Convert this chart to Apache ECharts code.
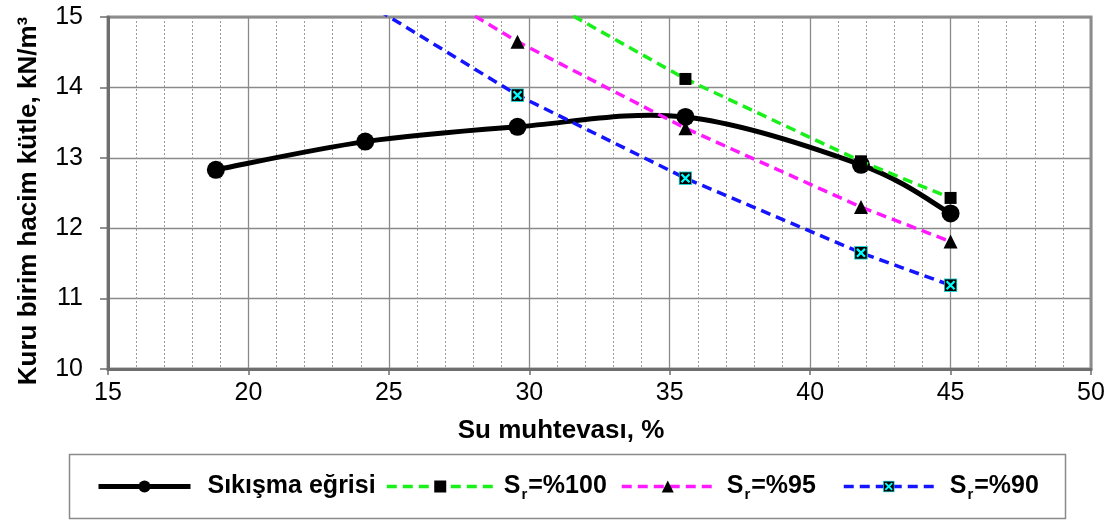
<!DOCTYPE html>
<html>
<head>
<meta charset="utf-8">
<script src="https://cdn.jsdelivr.net/npm/echarts@6/dist/echarts.min.js"></script>
<style>
  html, body { margin: 0; padding: 0; background: #ffffff; }
  #chart { width: 1117px; height: 523px; }
</style>
</head>
<body>
<div id="chart"></div>
<script>
// Water content (%) of each compaction test
const moisture = [18.84, 24.16, 29.58, 35.56, 41.81, 45.0];
// Dry unit weight of the compaction curve (kN/m3)
const dryUnitWeight = [12.83, 13.23, 13.44, 13.58, 12.90, 12.21];
// Constant-saturation lines at the same water contents (null = not plotted)
const sr100 = [null, null, 15.46, 14.12, 12.95, 12.43];
const sr95 = [null, 15.95, 14.65, 13.42, 12.30, 11.81];
const sr90 = [null, 15.21, 13.89, 12.71, 11.65, 11.19];
// Axis tick values
const xTicks = [15, 20, 25, 30, 35, 40, 45, 50];
const yTicks = [10, 11, 12, 13, 14, 15];
// Series names
const names = ['Sıkışma eğrisi', 'Sr=%100', 'Sr=%95', 'Sr=%90'];

const pairs = ys => moisture.map((x, i) => ys[i] == null ? null : [x, ys[i]]).filter(Boolean);

// Black square with a cyan cross
const crossSvg = '<svg xmlns="http://www.w3.org/2000/svg" width="36" height="36" viewBox="0 0 12 12">' +
  '<rect x="0.6" y="0.6" width="10.8" height="10.8" fill="#000" stroke="#19d9d9" stroke-width="0.8"/>' +
  '<path d="M2.6 2.6L9.4 9.4M9.4 2.6L2.6 9.4" stroke="#00ffff" stroke-width="1.9"/></svg>';
const crossSymbol = 'image://data:image/svg+xml;charset=utf-8,' + encodeURIComponent(crossSvg);

const FONT = '"Liberation Sans", Arial, sans-serif';
const DASH = [10, 6];

const richStyles = {
  s: { fontSize: 25, fontWeight: 'bold', color: '#000', fontFamily: FONT },
  sub: { fontSize: 15, fontWeight: 'bold', color: '#000', fontFamily: FONT, padding: [17, 1, 0, 1] }
};
const legendFormatter = name => name.indexOf('Sr') === 0
  ? '{s|S}{sub|r}{s|' + name.slice(2) + '}'
  : '{s|' + name + '}';

function legendAt(left, name, itemWidth, gap, lineStyle) {
  return {
    left: left, top: 469, orient: 'horizontal',
    data: [name], itemWidth: itemWidth, itemHeight: 15,
    selectedMode: false, formatter: legendFormatter,
    lineStyle: lineStyle,
    textStyle: { rich: richStyles, padding: [0, 0, 0, gap] }
  };
}

// Smooth curve through the compaction points (cubic Bezier, Catmull-Rom style tangents)
function renderCurve(params, api) {
  if (params.dataIndex !== 0) return null;
  const pts = pairs(dryUnitWeight).map(p => api.coord(p));
  const n = pts.length;
  const P = i => pts[Math.max(0, Math.min(n - 1, i))];
  const children = [];
  for (let i = 0; i < n - 1; i++) {
    const p0 = P(i - 1), p1 = P(i), p2 = P(i + 1), p3 = P(i + 2);
    children.push({
      type: 'bezierCurve',
      shape: {
        x1: p1[0], y1: p1[1], x2: p2[0], y2: p2[1],
        cpx1: p1[0] + (p2[0] - p0[0]) / 6, cpy1: p1[1] + (p2[1] - p0[1]) / 6,
        cpx2: p2[0] - (p3[0] - p1[0]) / 6, cpy2: p2[1] - (p3[1] - p1[1]) / 6
      },
      style: { stroke: '#000', lineWidth: 5, fill: null, lineCap: 'round' }
    });
  }
  return { type: 'group', children: children };
}

const chart = echarts.init(document.getElementById('chart'), null, { renderer: 'canvas' });

chart.setOption({
  animation: false,
  backgroundColor: '#ffffff',
  grid: {
    left: 108, right: 26, top: 17, bottom: 154,
    show: true, borderColor: '#8e8e8e', borderWidth: 3, backgroundColor: 'transparent'
  },
  legend: [
    legendAt(91, names[0], 92, 12, { color: '#000', width: 5, opacity: 1, type: 'solid' }),
    legendAt(380, names[1], 107, 5, { color: '#19f019', width: 3.5, opacity: 1, type: DASH }),
    legendAt(615, names[2], 92, 8, { color: '#ff19ff', width: 3.5, opacity: 1, type: DASH }),
    legendAt(837, names[3], 90, 11, { color: '#1414ff', width: 3.5, opacity: 1, type: DASH })
  ],
  graphic: [{
    type: 'rect', left: 67, top: 452, z: -1,
    shape: { width: 996, height: 64 },
    style: { fill: 'none', stroke: '#8a8a8a', lineWidth: 1.5 }
  }],
  xAxis: {
    type: 'value',
    min: xTicks[0], max: xTicks[xTicks.length - 1], interval: xTicks[1] - xTicks[0],
    name: 'Su muhtevası, %', nameLocation: 'middle', nameGap: 49,
    nameTextStyle: { fontSize: 26, fontWeight: 'bold', color: '#000', fontFamily: FONT, padding: [0, 77, 0, 0] },
    axisLine: { show: true, onZero: false, lineStyle: { color: '#6e6e6e', width: 3 } },
    axisTick: { show: true, length: 6, lineStyle: { color: '#6e6e6e', width: 1.5 } },
    axisLabel: { fontSize: 25, color: '#000', fontFamily: FONT, margin: 12 },
    splitLine: { show: true, lineStyle: { color: '#8a8a8a', width: 1.3 } },
    minorTick: { show: false, splitNumber: 5 },
    minorSplitLine: { show: true, lineStyle: { color: '#9a9a9a', width: 1, type: [2, 2] } }
  },
  yAxis: {
    type: 'value',
    min: yTicks[0], max: yTicks[yTicks.length - 1], interval: yTicks[1] - yTicks[0],
    name: 'Kuru birim hacim kütle, kN/m³', nameLocation: 'middle', nameGap: 66,
    nameTextStyle: { fontSize: 26, fontWeight: 'bold', color: '#000', fontFamily: FONT, padding: [0, 16, 0, 0] },
    axisLine: { show: true, onZero: false, lineStyle: { color: '#6e6e6e', width: 3 } },
    axisTick: { show: true, length: 8, lineStyle: { color: '#6e6e6e', width: 1.5 } },
    axisLabel: { fontSize: 25, color: '#000', fontFamily: FONT, margin: 25 },
    splitLine: { show: true, lineStyle: { color: '#8a8a8a', width: 1.3 } }
  },
  series: [
    {
      name: 'curve', type: 'custom', data: pairs(dryUnitWeight),
      renderItem: renderCurve, silent: true, z: 2
    },
    {
      name: names[0], type: 'line', data: pairs(dryUnitWeight),
      symbol: 'circle', symbolSize: 18,
      lineStyle: { color: '#000', width: 5, opacity: 0 },
      itemStyle: { color: '#000' }, z: 2
    },
    {
      name: names[1], type: 'line', data: pairs(sr100), clip: true,
      symbol: 'rect', symbolSize: 12,
      lineStyle: { color: '#19f019', width: 3.5, type: DASH },
      itemStyle: { color: '#000' }, z: 3
    },
    {
      name: names[2], type: 'line', data: pairs(sr95), clip: true,
      symbol: 'triangle', symbolSize: 14,
      lineStyle: { color: '#ff19ff', width: 3.5, type: DASH },
      itemStyle: { color: '#000' }, z: 3
    },
    {
      name: names[3], type: 'line', data: pairs(sr90), clip: true,
      symbol: crossSymbol, symbolSize: 14,
      lineStyle: { color: '#1414ff', width: 3.5, type: DASH },
      itemStyle: { color: '#000' }, z: 3
    }
  ]
});
</script>
</body>
</html>
